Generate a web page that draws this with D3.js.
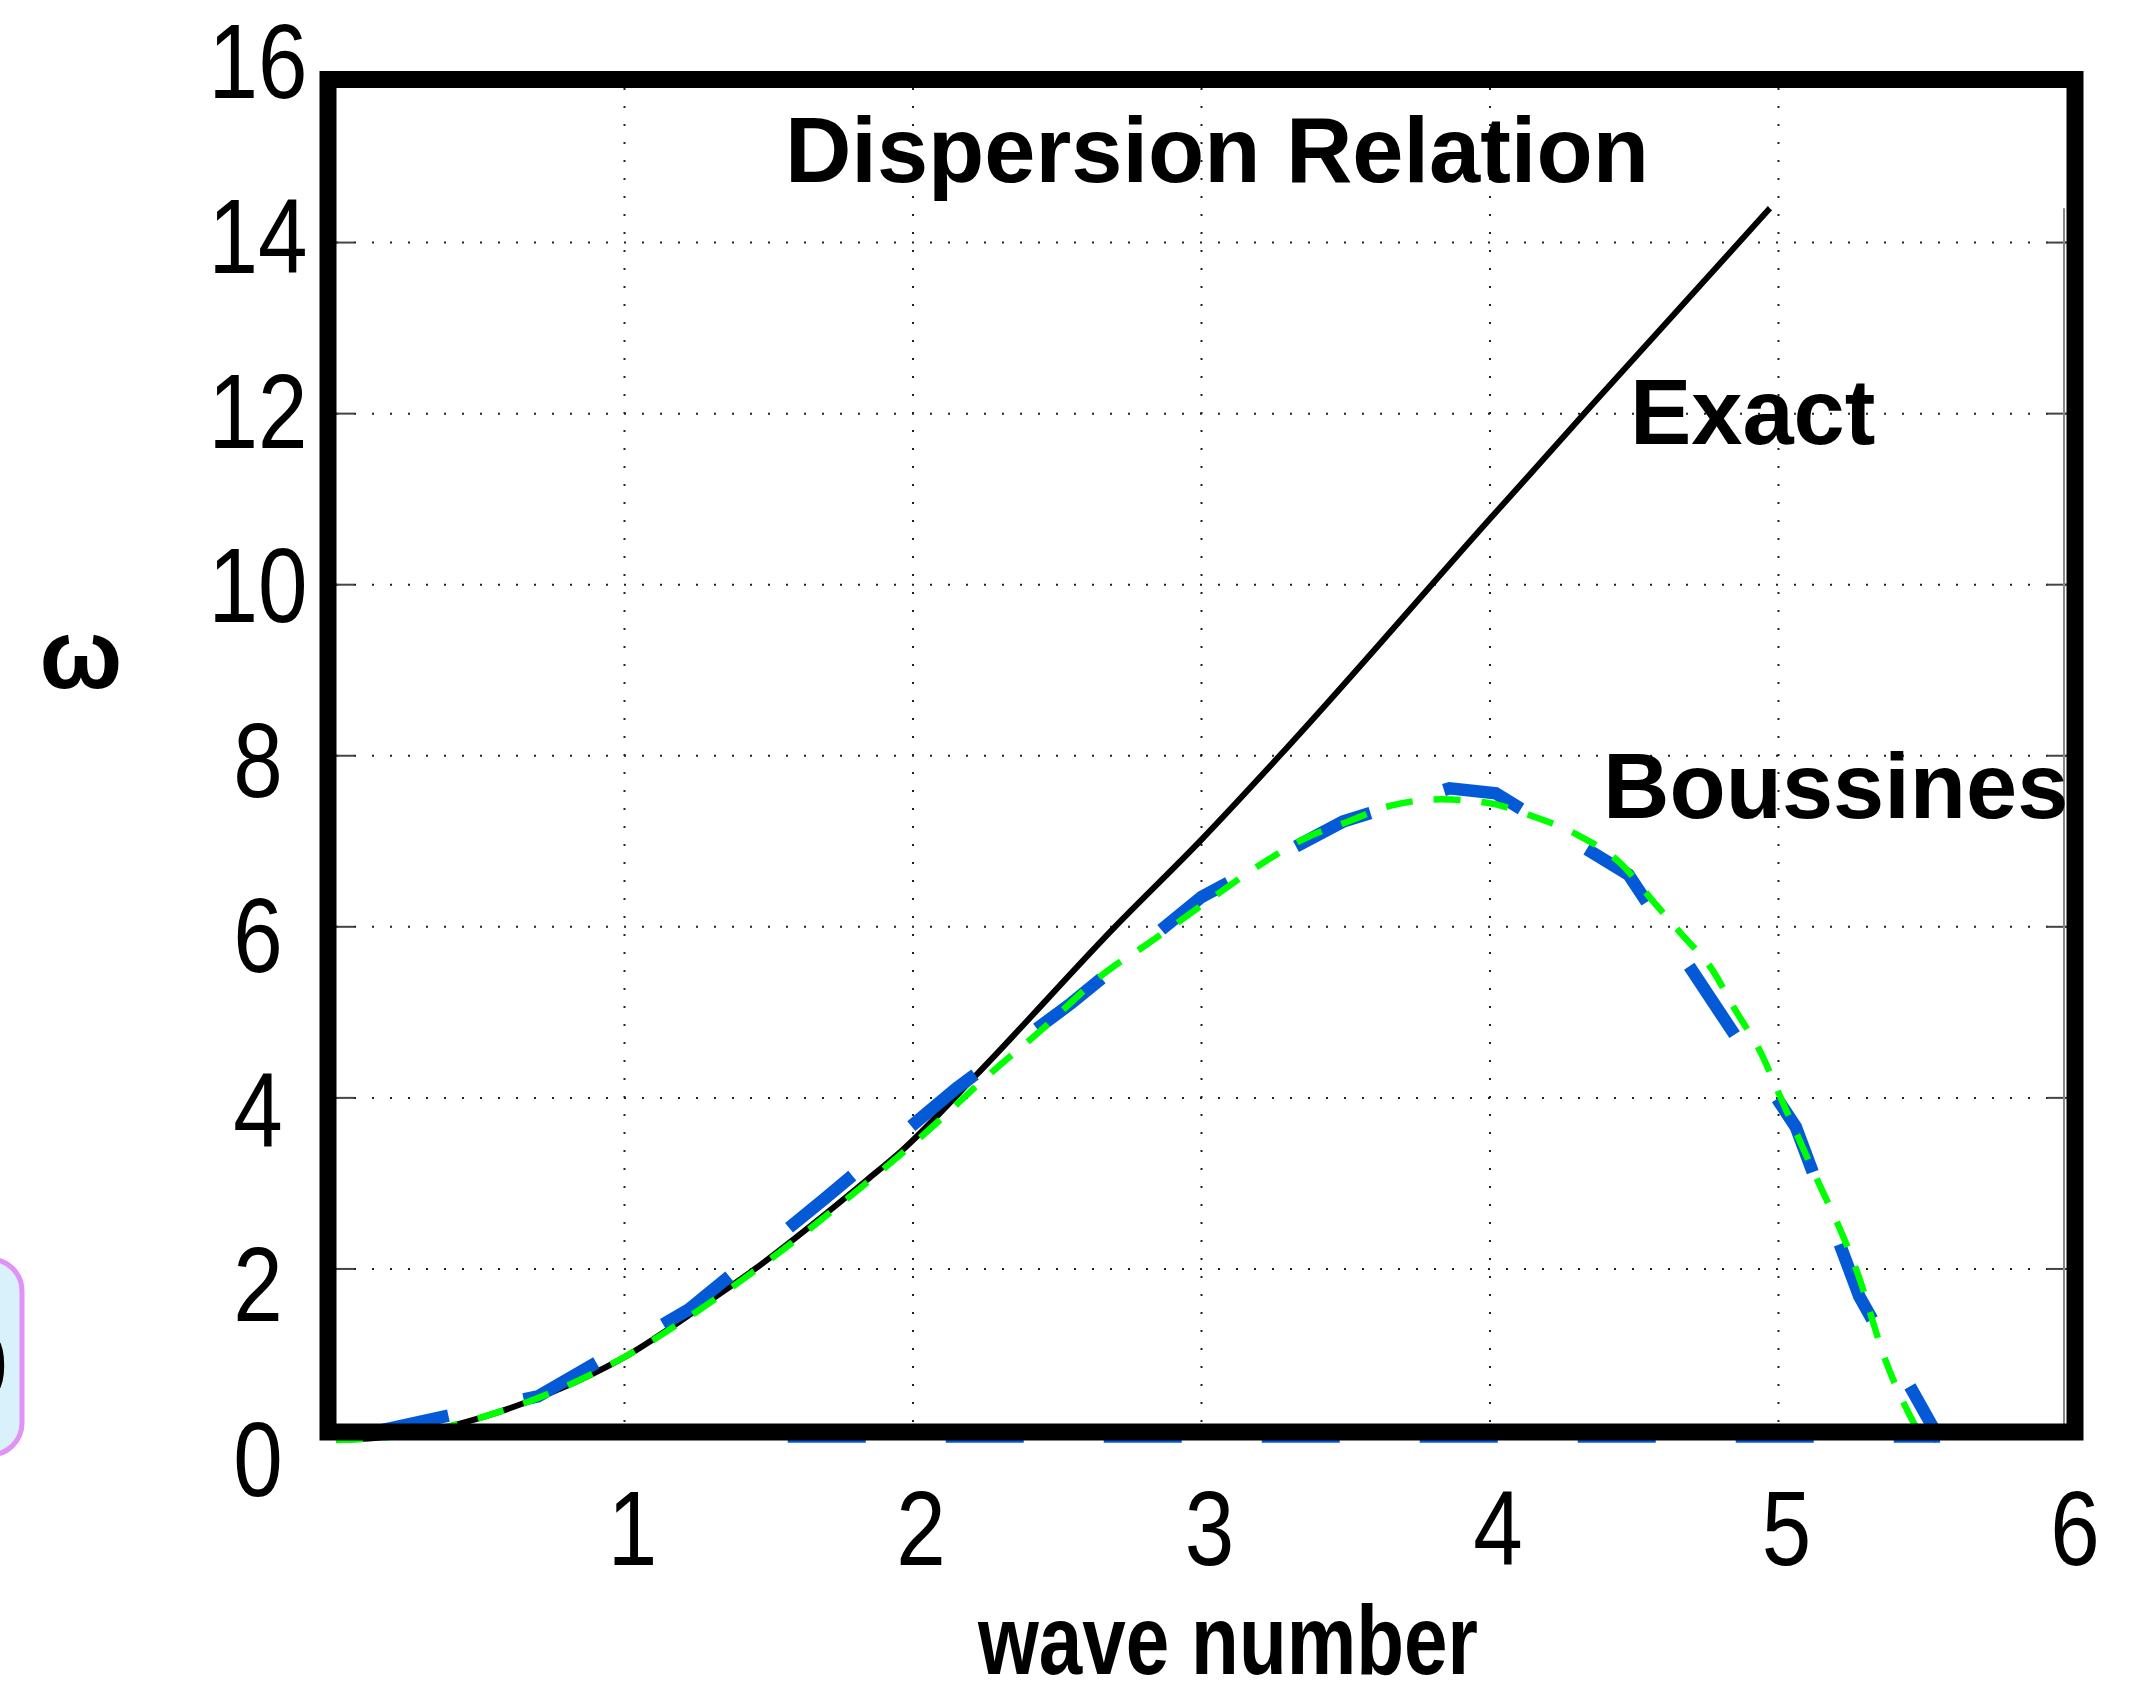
<!DOCTYPE html>
<html>
<head>
<meta charset="utf-8">
<script src="https://cdn.jsdelivr.net/npm/d3@7"></script>
<style>
  html, body { margin: 0; padding: 0; background: #fff; }
  svg { display: block; }
  text { font-family: "Liberation Sans", Arial, sans-serif; }
</style>
</head>
<body>
<svg id="chart" width="2135" height="1695"></svg>
<script>
// exact dispersion curve (wave number vs omega)
const exactK = [0, 0.25, 0.5, 0.75, 1.0, 1.3, 1.44, 1.64, 1.84, 1.96, 2.22, 2.7, 3.0, 3.29, 4.0, 4.34, 4.97];
const exactW = [0, 0.06, 0.26, 0.56, 0.97, 1.64, 1.97, 2.49, 3.04, 3.38, 4.27, 6.0, 7.02, 8.07, 10.77, 12.05, 14.4];

// boussinesq (green dotted, fine)
const boussK = [0, 0.25, 0.5, 0.75, 1.0, 1.25, 1.5, 1.75, 2.03, 2.29, 2.42, 2.68, 2.8, 3.0, 3.21, 3.35, 3.5, 3.66, 3.83, 3.99, 4.15, 4.3, 4.45, 4.57, 4.66, 4.77, 4.85, 4.94, 5.0, 5.14, 5.21, 5.27, 5.37, 5.5];
const boussW = [0, 0.06, 0.26, 0.56, 0.97, 1.5, 2.1, 2.76, 3.55, 4.35, 4.72, 5.5, 5.77, 6.25, 6.74, 7.02, 7.22, 7.42, 7.49, 7.45, 7.29, 7.08, 6.75, 6.28, 5.93, 5.5, 5.03, 4.52, 4.06, 3.0, 2.49, 1.99, 0.94, 0];

// boussinesq (blue dashed, coarse)
const coarseK = [0, 0.70, 1.22, 1.69, 2.15, 2.55, 3.0, 3.49, 3.86, 4.02, 4.48, 5.06, 5.28, 5.56];
const coarseW = [0, 0.51, 1.52, 2.81, 4.11, 5.11, 6.35, 7.23, 7.62, 7.56, 6.61, 3.66, 1.68, 0];
// blue dashed zero branch, mostly hidden under the bottom of the frame
const zeroK = [1.5, 5.56];
const zeroW = [0.04, 0.04];

const xTicks = [1, 2, 3, 4, 5, 6];
const yTicks = [0, 2, 4, 6, 8, 10, 12, 14, 16];
const xGrid = [1, 2, 3, 4, 5];
const yGrid = [2, 4, 6, 8, 10, 12, 14];

const svg = d3.select('#chart');
svg.append('rect').attr('width', 2135).attr('height', 1695).attr('fill', '#fff');

const x = d3.scaleLinear().domain([0, 6]).range([336, 2067]);
const y = d3.scaleLinear().domain([0, 16]).range([1440, 71.5]);
// tick labels sit a little spread out compared to the ticks
const yLab = d3.scaleLinear().domain([0, 16]).range([1458, 60]);

// left-edge leftover box
svg.append('rect')
    .attr('x', -80).attr('y', 1259)
    .attr('width', 102).attr('height', 196)
    .attr('rx', 32)
    .attr('fill', '#d9f1fb')
    .attr('stroke', '#e192f8')
    .attr('stroke-width', 5);
svg.append('text')
    .attr('x', 8).attr('y', 1400)
    .attr('text-anchor', 'end')
    .attr('font-size', 100)
    .text('0');

// grid
const grid = svg.append('g').attr('stroke', '#222').attr('stroke-width', 2).attr('stroke-dasharray', '2,16');
grid.selectAll('.gx').data(xGrid).enter().append('line')
    .attr('x1', d => x(d)).attr('x2', d => x(d))
    .attr('y1', y(0)).attr('y2', y(16));
grid.selectAll('.gy').data(yGrid).enter().append('line')
    .attr('x1', x(0)).attr('x2', x(6))
    .attr('y1', d => y(d)).attr('y2', d => y(d));

// small inward ticks
const ticks = svg.append('g').attr('stroke', '#444').attr('stroke-width', 2);
ticks.selectAll('.tl').data(yGrid).enter().append('line')
    .attr('x1', x(0)).attr('x2', x(0) + 18)
    .attr('y1', d => y(d)).attr('y2', d => y(d));
ticks.selectAll('.tr').data(yGrid).enter().append('line')
    .attr('x1', x(6) - 20).attr('x2', x(6))
    .attr('y1', d => y(d)).attr('y2', d => y(d));
// thin right axis line of the inner axes
svg.append('line')
    .attr('x1', x(6) - 3).attr('x2', x(6) - 3)
    .attr('y1', y(14.4)).attr('y2', y(0))
    .attr('stroke', '#888').attr('stroke-width', 2);

const line = d3.line().x(d => x(d[0])).y(d => y(d[1]));
const smooth = d3.line().x(d => x(d[0])).y(d => y(d[1])).curve(d3.curveMonotoneX);

// exact
svg.append('path')
    .attr('d', smooth(d3.zip(exactK, exactW)))
    .attr('fill', 'none').attr('stroke', '#000').attr('stroke-width', 6);

// blue coarse dashed
svg.append('path')
    .attr('d', line(d3.zip(coarseK, coarseW)))
    .attr('fill', 'none').attr('stroke', '#0459d6').attr('stroke-width', 12.5)
    .attr('stroke-dasharray', '82,77').attr('stroke-dashoffset', 126);
svg.append('path')
    .attr('d', line(d3.zip(zeroK, zeroW)))
    .attr('fill', 'none').attr('stroke', '#0459d6').attr('stroke-width', 12.5)
    .attr('stroke-dasharray', '78,80').attr('stroke-dashoffset', 139);

// green fine dotted
svg.append('path')
    .attr('d', smooth(d3.zip(boussK, boussW)))
    .attr('fill', 'none').attr('stroke', '#00ff00').attr('stroke-width', 6.5)
    .attr('stroke-dasharray', '27,21');

// frame
svg.append('rect')
    .attr('x', x(0) - 8).attr('y', y(16) + 8)
    .attr('width', x(6) - x(0) + 16).attr('height', y(0) - y(16) - 16)
    .attr('fill', 'none').attr('stroke', '#000').attr('stroke-width', 17);

// tick labels
svg.selectAll('.ylab').data(yTicks).enter().append('text')
    .attr('transform', d => `translate(258,${yLab(d) + 38}) scale(0.84,1)`)
    .attr('text-anchor', 'middle')
    .attr('font-size', 106)
    .text(d => d);
svg.selectAll('.xlab').data(xTicks).enter().append('text')
    .attr('transform', d => `translate(${x(d) + 8},1565) scale(0.84,1)`)
    .attr('text-anchor', 'middle')
    .attr('font-size', 106)
    .text(d => d);

// axis titles
svg.append('text')
    .attr('x', 81).attr('y', 688)
    .attr('text-anchor', 'middle')
    .attr('font-size', 98).attr('font-weight', 'bold')
    .text('ω');
svg.append('text')
    .attr('x', 978).attr('y', 1674)
    .attr('font-family', '"Noto Sans", sans-serif')
    .attr('font-size', 98).attr('font-weight', 600)
    .attr('textLength', 500).attr('lengthAdjust', 'spacingAndGlyphs')
    .text('wave number');

// title and curve labels
svg.append('text')
    .attr('x', x(1.556)).attr('y', y(14.71))
    .attr('font-size', 92).attr('font-weight', 'bold')
    .text('Dispersion Relation');
svg.append('text')
    .attr('x', x(4.485)).attr('y', y(11.65))
    .attr('font-size', 92).attr('font-weight', 'bold')
    .text('Exact');
svg.append('text')
    .attr('x', x(4.392)).attr('y', y(7.275))
    .attr('font-size', 92).attr('font-weight', 'bold')
    .text('Boussines');
</script>
</body>
</html>
